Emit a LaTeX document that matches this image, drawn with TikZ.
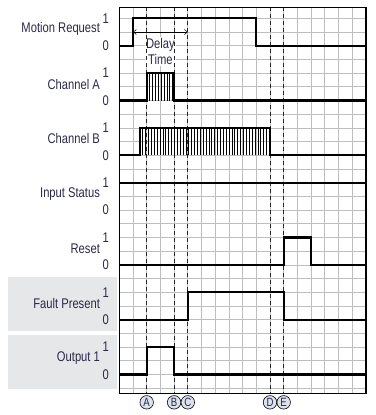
\documentclass[tikz,border=0pt]{standalone}
\usepackage{fontspec}
\setmainfont{Liberation Sans}[FakeStretch=0.8]
\usetikzlibrary{
  positioning,
  arrows.meta
}
\definecolor{gridline}{HTML}{BDBEC0}
\definecolor{panel}{HTML}{E6E7E8}
\definecolor{labeltext}{HTML}{2A2946}
\definecolor{marker}{HTML}{DCE2EC}

\begin{document}
\begin{tikzpicture}[
  x=13.7pt, y=13.7pt,
  signame/.style={anchor=east, font=\fontsize{14}{16}\selectfont, text=labeltext, inner sep=0pt},
  level/.style={anchor=east, font=\fontsize{14}{16}\selectfont, text=labeltext, inner sep=0pt},
  trace/.style={line width=2.2pt, black, line join=miter},
  hatch/.style={line width=0.6pt, black},
  event/.style={dash pattern=on 4pt off 3pt, line width=0.9pt, black!85},
  marker/.style={circle, draw, line width=0.6pt, fill=marker, inner sep=0pt, minimum size=13.5pt,
                 font=\fontsize{12}{12}\selectfont, text=labeltext},
  delayarr/.style={{Straight Barb[length=3pt,width=5pt]}-{Straight Barb[length=3pt,width=5pt]}, line width=0.5pt}
]
  \useasboundingbox (-8.708,1.336) rectangle (18.737,-28.956);

  % Label panels
  \fill[panel] (-8.124,-18.86) rectangle (-0.146,-22.80);
  \fill[panel] (-8.124,-23.09) rectangle (-0.146,-27.06);

  % Grid
  \coordinate (gridNW) at (0,0.8);
  \coordinate (gridSE) at (18,-27.37);
  \foreach \c in {1,...,17}
    \draw[gridline, line width=0.8pt] (\c,0.8) -- (\c,-27.37);
  \foreach \r in {0,...,27}
    \draw[gridline, line width=0.8pt] (0,-\r) -- (18,-\r);

  % Delay time
  \coordinate (delayL) at (1,-1);
  \coordinate (delayR) at (5,-1);
  \draw[delayarr] (delayL) -- (delayR);
  \node[fill=white, inner sep=1.5pt, align=center, font=\fontsize{14}{16}\selectfont,
        text=labeltext] (delay) at (3,-2.4) {Delay\\Time};

  % Events
  \foreach \lbl/\c in {A/2, B/4, C/5, D/11, E/12} {
    \node[marker] (ev\lbl) at (\c,-28.03) {\lbl};
    \draw[event] (ev\lbl |- gridNW) -- (ev\lbl |- gridSE);
  }

  % Signal names and levels
  \foreach \name/\txt/\r in {motion/Motion Request/0, chA/Channel A/4, chB/Channel B/8,
                             input/Input Status/12, reset/Reset/16, fault/Fault Present/20,
                             out/Output 1/24} {
    \node[signame] (\name) at (-1.4,-\r-0.8) {\txt};
    \node[level] (\name-1) at (-0.75,-\r) {1};
    \node[level] (\name-0) at (-0.75,-\r-2) {0};
  }

  % Hatching
  \foreach \x in {2.21,2.42,...,3.9}
    \draw[hatch] (\x,-4) -- (\x,-6);
  \foreach \x in {1.71,1.92,...,10.9}
    \draw[hatch] (\x,-8) -- (\x,-10);

  % Traces
  \draw[trace] (0,-2) -| (1,0) -| (10,-2) -- (18,-2);
  \draw[trace] (0,-6) -| (2,-4) -| (4,-6) -- (18,-6);
  \draw[trace] (0,-10) -| (1.5,-8) -| (11,-10) -- (18,-10);
  \draw[trace] (0,-12) -- (18,-12);
  \draw[trace] (0,-18) -| (12,-16) -| (14,-18) -- (18,-18);
  \draw[trace] (0,-22) -| (5,-20) -| (12,-22) -- (18,-22);
  \draw[trace] (0,-26) -| (2,-24) -| (4,-26) -- (18,-26);

  % Frame
  \draw[line width=1.2pt] (gridNW) rectangle (gridSE);
\end{tikzpicture}
\end{document}
